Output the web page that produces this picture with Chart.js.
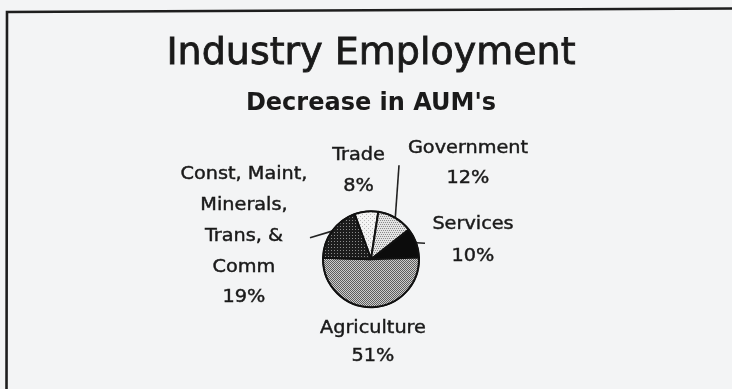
<!DOCTYPE html>
<html>
<head>
<meta charset="utf-8">
<script src="https://cdn.jsdelivr.net/npm/chart.js@4.4.1/dist/chart.umd.min.js"></script>
<style>
  html, body { margin: 0; padding: 0; background: #f3f4f5; }
  #wrap { width: 732px; height: 389px; }
</style>
</head>
<body>
<div id="wrap"><canvas id="c" width="732" height="389"></canvas></div>
<script>
// ---- data ----
const categories = ['Trade', 'Government', 'Services', 'Agriculture', 'Const, Maint, Minerals, Trans, & Comm'];
const labelLines = [['Trade'], ['Government'], ['Services'], ['Agriculture'], ['Const, Maint,', 'Minerals,', 'Trans, &', 'Comm']];
const percentages = [8, 12, 10, 51, 19];
const chartTitle = 'Industry Employment';
const chartSubtitle = "Decrease in AUM's";

// ---- styling ----
const FONT = '"DejaVu Sans", "Liberation Sans", Arial, sans-serif';
const INK = '#1a1a1a';
const PAPER = '#f3f4f5';

function makePattern(size, bg, fg, dots) {
  const c = document.createElement('canvas');
  c.width = size; c.height = size;
  const g = c.getContext('2d');
  g.fillStyle = bg; g.fillRect(0, 0, size, size);
  g.fillStyle = fg;
  dots.forEach(([x, y]) => g.fillRect(x, y, 1, 1));
  return document.getElementById('c').getContext('2d').createPattern(c, 'repeat');
}
const fills = [
  makePattern(4, '#f4f4f4', '#b8b8b8', [[0, 0], [2, 2]]),                 // Trade
  makePattern(4, '#e4e4e4', '#8a8a8a', [[0, 0], [2, 0], [1, 2], [3, 2]]), // Government
  '#0c0c0c',                                                              // Services
  makePattern(2, '#cdcdcd', '#5e5e5e', [[0, 0], [1, 1]]),                 // Agriculture
  makePattern(3, '#1c1c1c', '#8c8c8c', [[1, 1]])                          // Const
];

// label placement relative to pie centre: first-line offset, line spacing
const placement = [
  { dx: -12.5, dy: -104, gap: 31.5 },
  { dx: 97, dy: -111, gap: 30 },
  { dx: 102, dy: -34.5, gap: 31.5 },
  { dx: 2, dy: 69.5, gap: 28 },
  { dx: -127, dy: -85, gap: 30.9 }
];
// leader lines: from slice edge (mid angle) to an end point relative to centre
const leaders = { 1: { dx: 28, dy: -94 }, 2: { dx: 54, dy: -16 }, 4: { dx: -61, dy: -21.5 } };

const backgroundPlugin = {
  id: 'paper',
  beforeDraw(chart) {
    const ctx = chart.ctx;
    ctx.save();
    ctx.fillStyle = PAPER;
    ctx.fillRect(0, 0, chart.width, chart.height);
    ctx.strokeStyle = '#1e1e1e';
    ctx.lineWidth = 2.6;
    ctx.beginPath();
    ctx.moveTo(6.5, chart.height + 5);
    ctx.lineTo(7, 12);
    ctx.lineTo(chart.width + 5, 8.5);
    ctx.stroke();
    ctx.restore();
  }
};

function heavyText(ctx, t, x, y, sx, lw) {
  ctx.save();
  ctx.translate(x, y);
  ctx.scale(sx, 1);
  ctx.fillText(t, 0, 0);
  ctx.lineWidth = lw;
  ctx.strokeText(t, 0, 0);
  ctx.restore();
}

const labelPlugin = {
  id: 'sliceLabels',
  afterDatasetsDraw(chart) {
    const ctx = chart.ctx;
    const meta = chart.getDatasetMeta(0);
    const values = chart.data.datasets[0].data;
    ctx.save();
    meta.data.forEach((arc, i) => {
      const cx = arc.x, cy = arc.y, R = arc.outerRadius;
      const mid = (arc.startAngle + arc.endAngle) / 2;
      if (leaders[i]) {
        ctx.strokeStyle = '#222';
        ctx.lineWidth = 1.6;
        ctx.beginPath();
        ctx.moveTo(cx + Math.cos(mid) * R, cy + Math.sin(mid) * R);
        ctx.lineTo(cx + leaders[i].dx, cy + leaders[i].dy);
        ctx.stroke();
      }
    });
    // heavier outer rim
    const a0 = meta.data[0];
    ctx.strokeStyle = '#111';
    ctx.lineWidth = 1.4;
    ctx.beginPath();
    ctx.arc(a0.x, a0.y, a0.outerRadius, 0, Math.PI * 2);
    ctx.stroke();

    meta.data.forEach((arc, i) => {
      const cx = arc.x, cy = arc.y;
      const p = placement[i];
      const lines = labelLines[i].concat([values[i] + '%']);
      ctx.fillStyle = INK;
      ctx.strokeStyle = INK;
      ctx.font = '18px ' + FONT;
      ctx.textAlign = 'center';
      ctx.textBaseline = 'middle';
      lines.forEach((t, k) => heavyText(ctx, t, cx + p.dx, cy + p.dy + k * p.gap, 1.07, 0.45));
    });
    ctx.restore();
  }
};

// re-stroke the title lightly so its weight matches the printed original
const titleWeightPlugin = {
  id: 'titleWeight',
  afterDraw(chart) {
    const tb = chart.titleBlock;
    if (!tb) return;
    const o = chart.options.plugins.title;
    const size = o.font.size;
    const ctx = chart.ctx;
    ctx.save();
    ctx.font = size + 'px ' + FONT;
    ctx.strokeStyle = INK;
    ctx.lineWidth = 0.8;
    ctx.textAlign = 'center';
    ctx.textBaseline = 'middle';
    ctx.strokeText(o.text, (tb.left + tb.right) / 2, tb.top + o.padding.top + size * 1.2 / 2);
    ctx.restore();
  }
};

new Chart(document.getElementById('c'), {
  type: 'pie',
  data: {
    labels: categories,
    datasets: [{
      data: percentages,
      backgroundColor: fills,
      borderColor: '#111111',
      borderWidth: 2,
      radius: 48
    }]
  },
  options: {
    responsive: false,
    animation: false,
    rotation: -20,
    layout: { padding: { top: 0, left: 10, right: 0, bottom: 12 } },
    plugins: {
      legend: { display: false },
      tooltip: { enabled: false },
      title: {
        display: true,
        text: chartTitle,
        color: INK,
        font: { family: FONT, size: 38, weight: 'normal' },
        padding: { top: 31, bottom: 0 }
      },
      subtitle: {
        display: true,
        text: chartSubtitle,
        color: INK,
        font: { family: FONT, size: 24, weight: 'bold' },
        padding: { top: 13, bottom: 23 }
      }
    }
  },
  plugins: [backgroundPlugin, labelPlugin, titleWeightPlugin]
});
</script>
</body>
</html>
